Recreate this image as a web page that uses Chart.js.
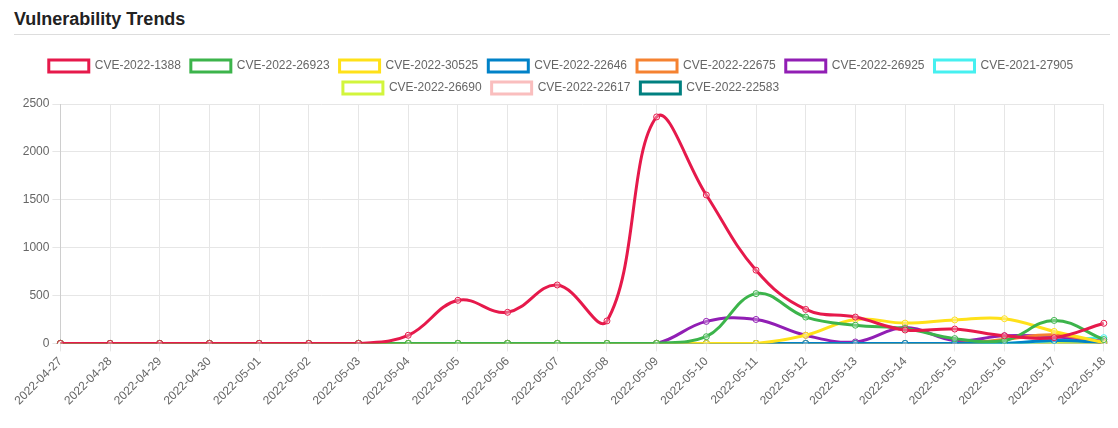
<!DOCTYPE html>
<html>
<head>
<meta charset="utf-8">
<script src="https://cdn.jsdelivr.net/npm/chart.js@4.4.0/dist/chart.umd.min.js"></script>
<style>
  body { margin: 0; background: #fff; font-family: "Liberation Sans", Arial, sans-serif; }
  .card { position: absolute; left: 14px; top: 0; width: 1096px; }
  .card h3 { margin: 0; padding: 9px 0 6px 0; font-size: 18px; font-weight: bold; color: #222; border-bottom: 1px solid #ddd; height: 19px; }
  .chart-box { position: relative; width: 1103px; height: 361px; margin-top: 15px; }
</style>
</head>
<body>
<div class="card">
  <h3>Vulnerability Trends</h3>
  <div class="chart-box"><canvas id="trend"></canvas></div>
</div>
<script>
// dates on the x axis
const dates = ['2022-04-27', '2022-04-28', '2022-04-29', '2022-04-30', '2022-05-01', '2022-05-02', '2022-05-03',
  '2022-05-04', '2022-05-05', '2022-05-06', '2022-05-07', '2022-05-08', '2022-05-09', '2022-05-10',
  '2022-05-11', '2022-05-12', '2022-05-13', '2022-05-14', '2022-05-15', '2022-05-16', '2022-05-17', '2022-05-18'];

// counts per CVE
const cve_2022_1388  = [0, 0, 0, 0, 0, 0, 0, 85, 450, 325, 610, 235, 2365, 1550, 765, 355, 275, 140, 150, 80, 60, 210];
const cve_2022_26923 = [0, 0, 0, 0, 0, 0, 0, 0, 0, 0, 0, 0, 0, 70, 520, 275, 190, 155, 50, 30, 240, 40];
const cve_2022_30525 = [0, 0, 0, 0, 0, 0, 0, 0, 0, 0, 0, 0, 0, 0, 0, 85, 250, 212, 245, 258, 125, 10];
const cve_2022_22646 = [0, 0, 0, 0, 0, 0, 0, 0, 0, 0, 0, 0, 0, 0, 0, 0, 0, 0, 0, 0, 30, 10];
const cve_2022_22675 = [0, 0, 0, 0, 0, 0, 0, 0, 0, 0, 0, 0, 0, 0, 0, 0, 0, 0, 0, 40, 90, 0];
const cve_2022_26925 = [0, 0, 0, 0, 0, 0, 0, 0, 0, 0, 0, 0, 0, 230, 250, 85, 15, 165, 30, 80, 70, 20];
const cve_2021_27905 = [0, 0, 0, 0, 0, 0, 0, 0, 0, 0, 0, 0, 0, 0, 0, 0, 0, 0, 0, 0, 30, 60];
const cve_2022_26690 = [0, 0, 0, 0, 0, 0, 0, 0, 0, 0, 0, 0, 0, 0, 0, 0, 0, 0, 0, 0, 0, 0];
const cve_2022_22617 = [0, 0, 0, 0, 0, 0, 0, 0, 0, 0, 0, 0, 0, 0, 0, 0, 0, 0, 0, 0, 0, 0];
const cve_2022_22583 = [0, 0, 0, 0, 0, 0, 0, 0, 0, 0, 0, 0, 0, 0, 0, 0, 0, 0, 0, 0, 0, 0];

const yTicks = [0, 500, 1000, 1500, 2000, 2500];

const series = [
  ['CVE-2022-1388', cve_2022_1388, '#e6194b'],
  ['CVE-2022-26923', cve_2022_26923, '#3cb44b'],
  ['CVE-2022-30525', cve_2022_30525, '#ffe119'],
  ['CVE-2022-22646', cve_2022_22646, '#0082c8'],
  ['CVE-2022-22675', cve_2022_22675, '#f58231'],
  ['CVE-2022-26925', cve_2022_26925, '#911eb4'],
  ['CVE-2021-27905', cve_2021_27905, '#46f0f0'],
  ['CVE-2022-26690', cve_2022_26690, '#d2f53c'],
  ['CVE-2022-22617', cve_2022_22617, '#fabebe'],
  ['CVE-2022-22583', cve_2022_22583, '#008080']
];

Chart.defaults.font.family = '"Liberation Sans", Arial, sans-serif';

// legend sits a bit left of the canvas centre in the original
const legendShift = {
  id: 'legendShift',
  afterLayout(chart) {
    chart.legend.right -= 9;
  }
};

new Chart(document.getElementById('trend'), {
  type: 'line',
  data: {
    labels: dates,
    datasets: series.map(([name, vals, col]) => ({
      label: name,
      data: vals,
      borderColor: col,
      backgroundColor: '#fff',
      borderWidth: 3,
      tension: 0.4,
      fill: false,
      pointRadius: 3,
      pointBorderWidth: 1,
      pointBackgroundColor: 'rgba(255,255,255,0.3)'
    }))
  },
  plugins: [legendShift],
  options: {
    responsive: true,
    maintainAspectRatio: false,
    animation: false,
    plugins: {
      legend: {
        labels: { boxWidth: 40, boxHeight: 12, color: '#666', font: { size: 12 } }
      },
      tooltip: { enabled: false }
    },
    scales: {
      x: {
        grid: { color: '#e6e6e6' },
        ticks: { color: '#666', font: { size: 12 }, maxRotation: 45, minRotation: 45, autoSkip: false }
      },
      y: {
        min: 0,
        max: 2500,
        grid: { color: '#e6e6e6' },
        afterBuildTicks: axis => { axis.ticks = yTicks.map(v => ({ value: v })); },
        ticks: { color: '#666', font: { size: 12 }, callback: v => String(v) }
      }
    }
  }
});
</script>
</body>
</html>
